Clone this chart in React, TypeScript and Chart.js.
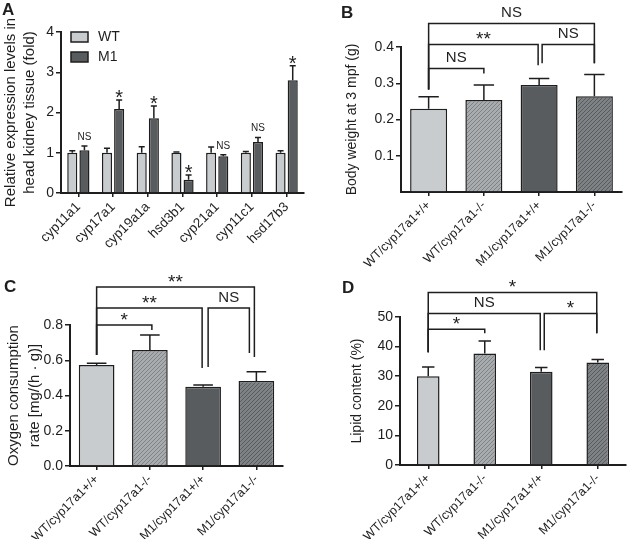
import React, { useEffect, useRef } from 'react';
import { Chart, registerables } from 'chart.js';

Chart.register(...registerables);

const FONT = '"Liberation Sans", Arial, Helvetica, sans-serif';
const INK = '#1e1e1e';

// ---------- Panel A: expression levels ----------
const genes = ['cyp11a1', 'cyp17a1', 'cyp19a1a', 'hsd3b1', 'cyp21a1', 'cyp11c1', 'hsd17b3'];
const seriesNames = ['WT', 'M1'];
const wtExpr = [1, 1, 1, 1, 1, 1, 1];
const wtExprErr = [0.05, 0.11, 0.15, 0.02, 0.14, 0.03, 0.05];
const m1Expr = [1.06, 2.09, 1.86, 0.33, 0.91, 1.27, 2.8];
const m1ExprErr = [0.11, 0.22, 0.3, 0.12, 0.04, 0.11, 0.36];
const exprSig = ['NS', '*', '*', '*', 'NS', 'NS', '*'];

// ---------- Panels B–D ----------
const groups = ['WT/cyp17a1+/+', 'WT/cyp17a1-/-', 'M1/cyp17a1+/+', 'M1/cyp17a1-/-'];
const bodyWeight = [0.23, 0.254, 0.295, 0.264];
const bodyWeightErr = [0.033, 0.041, 0.018, 0.06];
const oxygenRate = [0.573, 0.658, 0.45, 0.482];
const oxygenRateErr = [0.01, 0.085, 0.01, 0.053];
const lipidContent = [30.0, 37.7, 31.5, 34.6];
const lipidContentErr = [3.1, 4.2, 1.4, 1.0];

type Bracket = {
  from: number; to: number; level: number; fromEnd: number; toEnd: number;
  label: string; dxFrom?: number; dxTo?: number;
};

const bodyWeightBrackets: Bracket[] = [
  { from: 0, to: 3, level: 0.465, fromEnd: 0.283, toEnd: 0.355, label: 'NS' },
  { from: 0, to: 2, level: 0.407, fromEnd: 0.283, toEnd: 0.35, label: '**', dxTo: -1 },
  { from: 2, to: 3, level: 0.407, fromEnd: 0.355, toEnd: 0.355, label: 'NS', dxFrom: 3 },
  { from: 0, to: 1, level: 0.341, fromEnd: 0.283, toEnd: 0.327, label: 'NS' },
];
const oxygenBrackets: Bracket[] = [
  { from: 0, to: 3, level: 1.016, fromEnd: 0.63, toEnd: 0.618, label: '**', dxTo: -2 },
  { from: 0, to: 2, level: 0.896, fromEnd: 0.63, toEnd: 0.556, label: '**', dxTo: -1 },
  { from: 2, to: 3, level: 0.896, fromEnd: 0.562, toEnd: 0.641, label: 'NS', dxFrom: 5, dxTo: -7 },
  { from: 0, to: 1, level: 0.8, fromEnd: 0.63, toEnd: 0.772, label: '*', dxTo: 2 },
];
const lipidBrackets: Bracket[] = [
  { from: 0, to: 3, level: 58.3, fromEnd: 38.1, toEnd: 44.5, label: '*', dxTo: -1 },
  { from: 0, to: 2, level: 51.2, fromEnd: 38.1, toEnd: 38.8, label: 'NS', dxTo: -1 },
  { from: 2, to: 3, level: 51.2, fromEnd: 38.8, toEnd: 44.5, label: '*', dxFrom: 3, dxTo: -1 },
  { from: 0, to: 1, level: 45.9, fromEnd: 38.1, toEnd: 44.5, label: '*' },
];

const WT_FILL = '#c9ccce';
const M1_FILL = '#585c5e';

function makePattern(base: string, stripe: string): CanvasPattern | string {
  const c = document.createElement('canvas');
  c.width = 4;
  c.height = 4;
  const g = c.getContext('2d');
  if (!g) return base;
  g.fillStyle = base;
  g.fillRect(0, 0, 4, 4);
  g.strokeStyle = stripe;
  g.lineWidth = 1;
  g.beginPath();
  g.moveTo(-1, 5); g.lineTo(5, -1);
  g.moveTo(3, 5); g.lineTo(5, 3);
  g.moveTo(-1, 1); g.lineTo(1, -1);
  g.stroke();
  return g.createPattern(c, 'repeat') || base;
}

function drawErrorBar(ctx: CanvasRenderingContext2D, x: number, yTop: number, yErr: number, capW: number) {
  ctx.beginPath();
  ctx.moveTo(x, yTop);
  ctx.lineTo(x, yErr);
  ctx.moveTo(x - capW / 2, yErr);
  ctx.lineTo(x + capW / 2, yErr);
  ctx.stroke();
}

function yScale(o: {
  max: number; step: number; fmt: (v: number) => string; hideZeroTick?: boolean;
  title: string | string[]; titleSize: number; titleLH: number; titlePad: number; width: number;
}) {
  return {
    min: 0,
    max: o.max,
    ticks: {
      stepSize: o.step,
      font: { size: 14, family: FONT },
      color: INK,
      padding: 2,
      callback: (v: any) => o.fmt(Number(v)),
    },
    grid: {
      drawOnChartArea: false,
      drawTicks: true,
      tickLength: 5,
      lineWidth: 1.5,
      color: INK,
      tickColor: (c: any) => (o.hideZeroTick && c.tick && c.tick.value === 0 ? 'rgba(0,0,0,0)' : INK),
    },
    border: { display: true, color: INK, width: 2 },
    title: {
      display: true,
      text: o.title,
      color: INK,
      font: { size: o.titleSize, family: FONT, lineHeight: o.titleLH },
      padding: { top: o.titlePad, bottom: 0 },
    },
    afterFit: (s: any) => { s.width = o.width; },
  };
}

function xScale(height: number, fontSize: number) {
  return {
    offset: true,
    grid: {
      offset: false,
      drawOnChartArea: false,
      drawTicks: true,
      tickLength: 4,
      lineWidth: 1.5,
      color: INK,
    },
    border: { display: true, color: INK, width: 2 },
    ticks: {
      autoSkip: false,
      minRotation: 45,
      maxRotation: 45,
      padding: 2,
      color: INK,
      font: { size: fontSize, family: FONT },
    },
    afterFit: (s: any) => { s.height = height; },
  };
}

function makeExpressionChart(canvas: HTMLCanvasElement) {
  const annot = {
    id: 'annotA',
    afterDatasetsDraw(chart: any) {
      const ctx: CanvasRenderingContext2D = chart.ctx;
      const ys = chart.scales.y;
      const area = chart.chartArea;
      ctx.save();
      ctx.strokeStyle = INK;
      ctx.lineWidth = 1.5;
      const sets = [
        { v: wtExpr, e: wtExprErr },
        { v: m1Expr, e: m1ExprErr },
      ];
      sets.forEach((s, di) => {
        const meta = chart.getDatasetMeta(di);
        meta.data.forEach((el: any, i: number) => {
          drawErrorBar(ctx, el.x, ys.getPixelForValue(s.v[i]), ys.getPixelForValue(s.v[i] + s.e[i]), el.width * 0.6);
        });
      });
      // significance marks above M1 bars
      const m1Meta = chart.getDatasetMeta(1);
      ctx.fillStyle = INK;
      ctx.textAlign = 'center';
      ctx.textBaseline = 'alphabetic';
      m1Meta.data.forEach((el: any, i: number) => {
        const top = ys.getPixelForValue(m1Expr[i] + m1ExprErr[i]);
        if (exprSig[i] === 'NS') {
          ctx.font = `10px ${FONT}`;
          ctx.fillText('NS', el.x, top - 6);
        } else {
          ctx.font = `20px ${FONT}`;
          ctx.fillText(exprSig[i], el.x, top + 4);
        }
      });
      // legend
      const fills = [WT_FILL, M1_FILL];
      ctx.font = `14px ${FONT}`;
      ctx.textAlign = 'left';
      ctx.textBaseline = 'middle';
      seriesNames.forEach((n, i) => {
        const lx = area.left + 10;
        const ly = area.top + i * 20;
        ctx.fillStyle = fills[i];
        ctx.fillRect(lx, ly, 17, 10);
        ctx.lineWidth = 1.5;
        ctx.strokeRect(lx, ly, 17, 10);
        ctx.fillStyle = INK;
        ctx.fillText(n, lx + 27, ly + 5.5);
      });
      ctx.restore();
    },
  };
  return new Chart(canvas, {
    type: 'bar',
    data: {
      labels: genes,
      datasets: [
        { label: seriesNames[0], data: wtExpr, backgroundColor: WT_FILL, borderColor: INK, borderWidth: 1.5, categoryPercentage: 0.7, barPercentage: 0.83 },
        { label: seriesNames[1], data: m1Expr, backgroundColor: M1_FILL, borderColor: INK, borderWidth: 1.5, categoryPercentage: 0.7, barPercentage: 0.83 },
      ],
    },
    options: {
      animation: false,
      responsive: false,
      devicePixelRatio: 1,
      layout: { padding: { top: 32, right: 12, left: 0, bottom: 0 } },
      plugins: { legend: { display: false }, tooltip: { enabled: false } },
      scales: {
        x: xScale(77, 13.5),
        y: yScale({
          max: 4, step: 1, fmt: (v) => String(v),
          title: ['Relative expression levels in', 'head kidney tissue (fold)'],
          titleSize: 15, titleLH: 1.3, titlePad: 1, width: 61,
        }),
      },
    } as any,
    plugins: [annot],
  });
}

function makeGroupChart(canvas: HTMLCanvasElement, o: {
  values: number[]; errors: number[]; brackets: Bracket[];
  max: number; step: number; fmt: (v: number) => string; hideZeroTick?: boolean;
  title: string | string[]; titleSize: number; titleLH: number; titlePad: number;
  yWidth: number; xHeight: number; padTop: number; padRight: number; barPct: number;
}) {
  const fills = [
    WT_FILL,
    makePattern('#a9acae', '#7f8284'),
    M1_FILL,
    makePattern('#7e8284', '#575b5d'),
  ];
  const annot = {
    id: 'annotG',
    afterDatasetsDraw(chart: any) {
      const ctx: CanvasRenderingContext2D = chart.ctx;
      const ys = chart.scales.y;
      const meta = chart.getDatasetMeta(0);
      ctx.save();
      ctx.strokeStyle = INK;
      ctx.lineWidth = 1.5;
      meta.data.forEach((el: any, i: number) => {
        drawErrorBar(ctx, el.x, ys.getPixelForValue(o.values[i]), ys.getPixelForValue(o.values[i] + o.errors[i]), el.width * 0.55);
      });
      ctx.fillStyle = INK;
      ctx.textAlign = 'center';
      ctx.textBaseline = 'alphabetic';
      o.brackets.forEach((b) => {
        const x1 = meta.data[b.from].x + (b.dxFrom || 0);
        const x2 = meta.data[b.to].x + (b.dxTo || 0);
        const yl = ys.getPixelForValue(b.level);
        ctx.beginPath();
        ctx.moveTo(x1, ys.getPixelForValue(b.fromEnd));
        ctx.lineTo(x1, yl);
        ctx.lineTo(x2, yl);
        ctx.lineTo(x2, ys.getPixelForValue(b.toEnd));
        ctx.stroke();
        if (b.label === 'NS') {
          ctx.font = `15px ${FONT}`;
          ctx.fillText(b.label, (x1 + x2) / 2, yl - 6);
        } else {
          ctx.font = `19px ${FONT}`;
          ctx.fillText(b.label, (x1 + x2) / 2, yl + 1);
        }
      });
      ctx.restore();
    },
  };
  return new Chart(canvas, {
    type: 'bar',
    data: {
      labels: groups,
      datasets: [
        { data: o.values, backgroundColor: fills as any, borderColor: INK, borderWidth: 1.5, categoryPercentage: 1, barPercentage: o.barPct },
      ],
    },
    options: {
      animation: false,
      responsive: false,
      devicePixelRatio: 1,
      layout: { padding: { top: o.padTop, right: o.padRight, left: 0, bottom: 0 } },
      plugins: { legend: { display: false }, tooltip: { enabled: false } },
      scales: {
        x: xScale(o.xHeight, 12.5),
        y: yScale({
          max: o.max, step: o.step, fmt: o.fmt, hideZeroTick: o.hideZeroTick,
          title: o.title, titleSize: o.titleSize, titleLH: o.titleLH, titlePad: o.titlePad, width: o.yWidth,
        }),
      },
    } as any,
    plugins: [annot],
  });
}

const letterStyle = (left: number, top: number): React.CSSProperties => ({
  position: 'absolute', left, top, font: `bold 17px ${FONT}`, color: INK, lineHeight: '17px',
});

export default function App() {
  const refA = useRef<HTMLCanvasElement>(null);
  const refB = useRef<HTMLCanvasElement>(null);
  const refC = useRef<HTMLCanvasElement>(null);
  const refD = useRef<HTMLCanvasElement>(null);

  useEffect(() => {
    Chart.defaults.font.family = FONT;
    Chart.defaults.color = INK;
    const charts: Chart[] = [];
    if (refA.current) charts.push(makeExpressionChart(refA.current));
    if (refB.current) charts.push(makeGroupChart(refB.current, {
      values: bodyWeight, errors: bodyWeightErr, brackets: bodyWeightBrackets,
      max: 0.4, step: 0.1, fmt: (v) => (v === 0 ? '' : v.toFixed(1)), hideZeroTick: true,
      title: 'Body weight at 3 mpf (g)', titleSize: 14, titleLH: 1.2, titlePad: 28,
      yWidth: 85, xHeight: 98, padTop: 47, padRight: 6, barPct: 0.67,
    }));
    if (refC.current) charts.push(makeGroupChart(refC.current, {
      values: oxygenRate, errors: oxygenRateErr, brackets: oxygenBrackets,
      max: 0.8, step: 0.2, fmt: (v) => v.toFixed(1),
      title: ['Oxygen consumption', 'rate [mg/(h · g)]'], titleSize: 15, titleLH: 1.35, titlePad: 4,
      yWidth: 70, xHeight: 73, padTop: 55, padRight: 33, barPct: 0.67,
    }));
    if (refD.current) charts.push(makeGroupChart(refD.current, {
      values: lipidContent, errors: lipidContentErr, brackets: lipidBrackets,
      max: 50, step: 10, fmt: (v) => String(Math.round(v)),
      title: 'Lipid content (%)', titleSize: 14, titleLH: 1.2, titlePad: 33,
      yWidth: 84, xHeight: 74, padTop: 47, padRight: 2, barPct: 0.4,
    }));
    return () => charts.forEach((c) => c.destroy());
  }, []);

  return (
    <div style={{ position: 'absolute', left: 0, top: 0, width: 628, height: 539, background: '#fff', overflow: 'hidden' }}>
      <canvas ref={refA} width={316} height={270} style={{ position: 'absolute', left: 0, top: 0 }} />
      <canvas ref={refB} width={312} height={290} style={{ position: 'absolute', left: 316, top: 0 }} />
      <canvas ref={refC} width={316} height={269} style={{ position: 'absolute', left: 0, top: 270 }} />
      <canvas ref={refD} width={312} height={269} style={{ position: 'absolute', left: 316, top: 270 }} />
      <div style={letterStyle(2, 1)}>A</div>
      <div style={letterStyle(341, 4)}>B</div>
      <div style={letterStyle(4, 278)}>C</div>
      <div style={letterStyle(342, 279)}>D</div>
    </div>
  );
}
